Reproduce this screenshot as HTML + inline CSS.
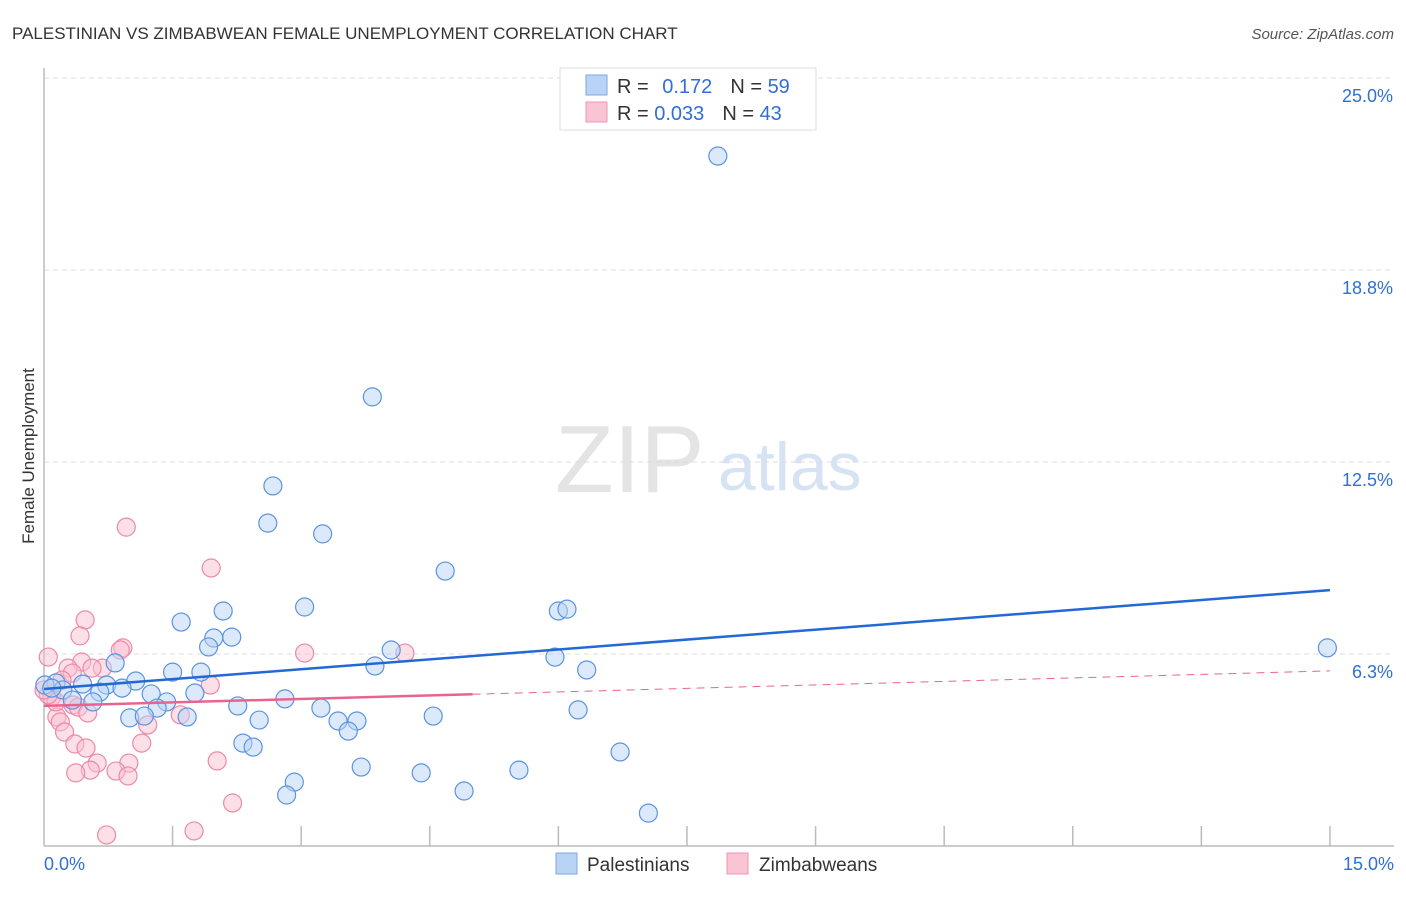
<!DOCTYPE html>
<html><head><meta charset="utf-8"><style>
body{margin:0;background:#fff;font-family:"Liberation Sans",sans-serif;}
svg text{font-family:"Liberation Sans",sans-serif;}
</style></head><body>
<svg id="c" width="1406" height="892">
<text x="12" y="39" font-size="17" fill="#333">PALESTINIAN VS ZIMBABWEAN FEMALE UNEMPLOYMENT CORRELATION CHART</text>
<text x="1394" y="39" font-size="15" fill="#555" font-style="italic" text-anchor="end">Source: ZipAtlas.com</text>
<text x="34" y="456" font-size="17" fill="#333" text-anchor="middle" transform="rotate(-90 34 456)">Female Unemployment</text>
<text x="555" y="492" font-size="96" fill="#e4e4e4" font-family="Liberation Serif">ZIP</text>
<text x="718" y="490" font-size="68" fill="#d5e3f5">atlas</text>
<g id="grid"></g><g id="pts"></g><g id="lines"></g>
<g>
<rect x="560" y="68" width="256" height="62" fill="#fff" stroke="#ddd"/>
<rect x="586" y="75" width="21" height="20" fill="#b9d3f5" stroke="#7aa7e6"/>
<rect x="586" y="102" width="21" height="20" fill="#f9c5d4" stroke="#ee94b0"/>
<text x="617" y="93" font-size="20" fill="#333">R = <tspan fill="#2f6fd6" dx="8">0.172</tspan><tspan dx="18" fill="#333">N = </tspan><tspan fill="#2f6fd6">59</tspan></text>
<text x="617" y="120" font-size="20" fill="#333">R = <tspan fill="#2f6fd6">0.033</tspan><tspan dx="18" fill="#333">N = </tspan><tspan fill="#2f6fd6">43</tspan></text>
</g>
<g>
<rect x="556" y="853" width="21" height="21" fill="#b9d3f5" stroke="#7aa7e6"/>
<text x="587" y="871" font-size="19" fill="#333">Palestinians</text>
<rect x="727" y="853" width="21" height="21" fill="#f9c5d4" stroke="#ee94b0"/>
<text x="759" y="871" font-size="19" fill="#333">Zimbabweans</text>
</g>
</svg>
<script>
const xTickLabels=["0.0%","15.0%"];
const yTicks=[6.25,12.5,18.75,25];
const yTickLabels=["6.3%","12.5%","18.8%","25.0%"];
const blueX=[7.86,3.83,2.67,2.61,3.25,4.68,3.04,2.09,6.00,6.10,1.60,1.98,2.19,1.92,4.05,14.97,5.96,0.83,3.86,6.33,1.50,1.83,1.07,0.73,0.45,0.14,0.22,0.91,0.65,1.25,1.76,2.81,1.43,0.57,0.33,2.26,1.32,3.23,6.23,4.54,1.00,1.17,1.67,2.51,3.43,3.65,3.55,2.32,2.44,6.72,5.54,3.70,4.40,2.92,2.83,4.90,7.05,0.01,0.09];
const blueY=[22.46,14.62,11.72,10.51,10.16,8.95,7.78,7.65,7.65,7.71,7.29,6.77,6.80,6.48,6.38,6.45,6.15,5.96,5.86,5.73,5.66,5.66,5.37,5.24,5.27,5.31,5.08,5.14,5.01,4.95,4.98,4.79,4.69,4.69,4.75,4.56,4.49,4.49,4.43,4.23,4.17,4.23,4.20,4.10,4.07,4.07,3.74,3.35,3.22,3.06,2.47,2.57,2.38,2.08,1.66,1.79,1.07,5.24,5.14];
const pinkX=[0.48,0.42,0.92,3.04,0.05,0.44,0.28,0.68,0.56,0.33,1.94,0.09,0.34,0.40,0.51,1.59,0.15,0.19,1.21,0.24,1.14,0.36,0.49,0.62,0.99,2.02,0.54,0.37,0.84,0.98,2.20,0.73,1.75,0.96,1.95,4.21,0.21,0.14,0.05,0.89,0.0];
const pinkY=[7.36,6.84,6.45,6.28,6.15,5.99,5.79,5.79,5.79,5.63,5.24,4.85,4.59,4.52,4.33,4.27,4.20,4.04,3.94,3.71,3.35,3.32,3.19,2.70,2.70,2.77,2.47,2.38,2.44,2.28,1.40,0.36,0.49,10.38,9.05,6.28,5.40,4.69,4.92,6.38,5.08];
const blueTrend=[5.11,8.33];
const pinkTrend=[4.56,5.70];
const pinkSolidEnd=5.0;
const X=v=>44+v*85.73, Y=v=>846-v*30.72;
const NS="http://www.w3.org/2000/svg";
function mk(t,a,p){const e=document.createElementNS(NS,t);for(const k in a)e.setAttribute(k,a[k]);p.appendChild(e);return e;}
const svg=document.getElementById('c'),grid=document.getElementById('grid'),pts=document.getElementById('pts'),lines=document.getElementById('lines');
yTicks.forEach((t,i)=>{
 const g=mk('line',{x1:44,x2:1394,y1:Y(t),y2:Y(t),stroke:'#ddd','stroke-dasharray':'5,4'},grid);
 
 
 const tx=mk('text',{x:1393,y:Y(t)+24,'font-size':18,fill:'#2f6fd6','text-anchor':'end'},grid);
 tx.textContent=yTickLabels[i];
 
 
});
const ax=mk('line',{x1:44,x2:44,y1:68,y2:846,stroke:'#bbb','stroke-width':1.5},grid);


const bx=mk('line',{x1:44,x2:1394,y1:846,y2:846,stroke:'#bbb','stroke-width':1.5},grid);


for(let i=1;i<=10;i++){const t=mk('line',{x1:X(i*1.5),x2:X(i*1.5),y1:826,y2:846,stroke:'#bbb','stroke-width':1.5},grid);
 
 }
[[44,'start'],[1394,'end']].forEach((p,i)=>{const t=mk('text',{x:p[0],y:870,'font-size':18,fill:'#2f6fd6','text-anchor':p[1]},grid);t.textContent=xTickLabels[i];
 
 });
function dots(xs,ys,fill,stroke,name){xs.forEach((x,i)=>{const c=mk('circle',{cx:X(x),cy:Y(ys[i]),r:9,fill:fill,'fill-opacity':0.5,stroke:stroke,'stroke-width':1.2},pts);
 
 });}
dots(pinkX,pinkY,'#f9c0d0','#ec8aa8','zimbabwean-point');
dots(blueX,blueY,'#b9d3f5','#5b93e0','palestinian-point');
const bl=mk('line',{x1:X(0),y1:Y(blueTrend[0]),x2:X(15),y2:Y(blueTrend[1]),stroke:'#2369d6','stroke-width':2.5},lines);


const py=x=>pinkTrend[0]+(pinkTrend[1]-pinkTrend[0])*x/15;
const pl=mk('line',{x1:X(0),y1:Y(py(0)),x2:X(pinkSolidEnd),y2:Y(py(pinkSolidEnd)),stroke:'#e8648e','stroke-width':2.5},lines);


const pd=mk('line',{x1:X(pinkSolidEnd),y1:Y(py(pinkSolidEnd)),x2:X(15),y2:Y(py(15)),stroke:'#e8648e','stroke-width':1,'stroke-dasharray':'8,6'},lines);


</script>
</body></html>
